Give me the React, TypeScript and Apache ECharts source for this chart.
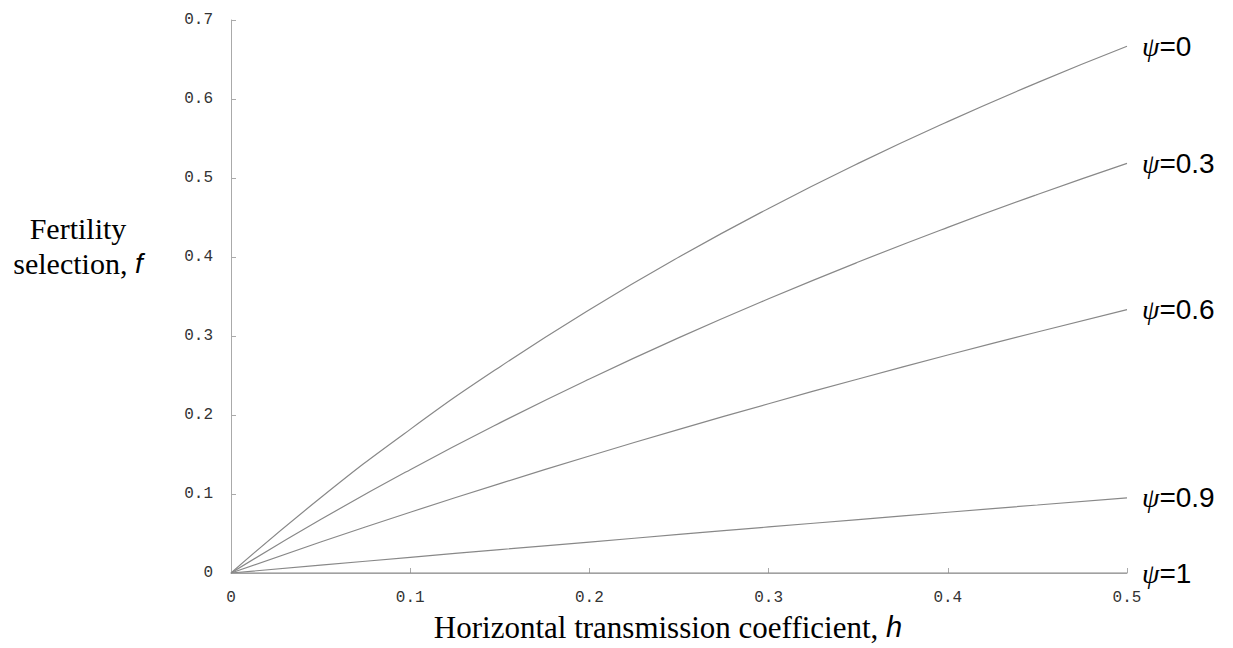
import React, { useEffect, useRef } from "react";
import * as echarts from "echarts";

const hValues = [0, 0.05, 0.1, 0.15, 0.2, 0.25, 0.3, 0.35, 0.4, 0.45, 0.5];
const psiLabels = ["0", "0.3", "0.6", "0.9", "1"];
const fPsi0 = [0, 0.0952, 0.1818, 0.2609, 0.3333, 0.4, 0.4615, 0.5185, 0.5714, 0.6207, 0.6667];
const fPsi03 = [0, 0.0676, 0.1308, 0.19, 0.2456, 0.2979, 0.3471, 0.3936, 0.4375, 0.4791, 0.5185];
const fPsi06 = [0, 0.0392, 0.0769, 0.1132, 0.1481, 0.1818, 0.2143, 0.2456, 0.2759, 0.3051, 0.3333];
const fPsi09 = [0, 0.0099, 0.0198, 0.0296, 0.0392, 0.0488, 0.0583, 0.0676, 0.0769, 0.0861, 0.0952];
const fPsi1 = [0, 0, 0, 0, 0, 0, 0, 0, 0, 0, 0];
const allSeries = [fPsi0, fPsi03, fPsi06, fPsi09, fPsi1];

export default function App() {
  const ref = useRef<HTMLDivElement>(null);
  useEffect(() => {
    if (!ref.current) return;
    const chart = echarts.init(ref.current, null, { renderer: "svg" });
    const tickFont = {
      fontFamily: "Liberation Mono, DejaVu Sans Mono, monospace",
      fontSize: 16,
      color: "#333",
    };
    const titleRich = {
      a: { fontFamily: "Liberation Serif", fontSize: 30, fill: "#000" },
      b: { fontFamily: "Liberation Sans", fontSize: 28, fontStyle: "italic", fill: "#000" },
    };
    const xTitleRich = {
      a: { fontFamily: "Liberation Serif", fontSize: 31, fill: "#000" },
      b: { fontFamily: "Liberation Sans", fontSize: 29, fontStyle: "italic", fill: "#000" },
    };
    chart.setOption({
      animation: false,
      backgroundColor: "#fff",
      grid: { left: 231, right: 106, top: 20, bottom: 75 },
      xAxis: {
        type: "value",
        min: 0,
        max: 0.5,
        interval: 0.1,
        axisLine: { show: true, lineStyle: { color: "#aaa", width: 1 } },
        axisTick: { show: true, inside: true, length: 5, lineStyle: { color: "#aaa" } },
        splitLine: { show: false },
        axisLabel: { ...tickFont, margin: 17 },
      },
      yAxis: {
        type: "value",
        min: 0,
        max: 0.7,
        interval: 0.1,
        axisLine: { show: true, lineStyle: { color: "#aaa", width: 1 } },
        axisTick: { show: true, inside: true, length: 5, lineStyle: { color: "#aaa" } },
        splitLine: { show: false },
        axisLabel: { ...tickFont, margin: 18 },
      },
      graphic: [
        {
          type: "text",
          x: 78,
          y: 228,
          style: {
            text: "Fertility",
            font: '30px "Liberation Serif", "Times New Roman", serif',
            fill: "#000",
            align: "center",
            verticalAlign: "middle",
          },
        },
        {
          type: "text",
          x: 78,
          y: 263,
          style: {
            text: "{a|selection, }{b|f}",
            rich: titleRich,
            align: "center",
            verticalAlign: "middle",
          },
        },
        {
          type: "text",
          x: 668,
          y: 627,
          style: {
            text: "{a|Horizontal transmission coefficient, }{b|h}",
            rich: xTitleRich,
            align: "center",
            verticalAlign: "middle",
          },
        },
      ],
      series: allSeries.map((vals, i) => ({
        type: "line",
        data: vals.map((f, j) => [hValues[j], f]),
        smooth: true,
        showSymbol: false,
        symbol: "none",
        lineStyle: { color: "#888", width: 1.2 },
        endLabel: {
          show: true,
          distance: 15,
          formatter: () => "{p|ψ}{t|=" + psiLabels[i] + "}",
          rich: {
            p: { fontFamily: "Liberation Serif", fontSize: 28, fontStyle: "italic", color: "#000" },
            t: { fontFamily: "Liberation Sans", fontSize: 28, color: "#000" },
          },
        },
        z: 2,
      })),
    });
    return () => chart.dispose();
  }, []);
  return (
    <div
      ref={ref}
      style={{ position: "fixed", left: 0, top: 0, width: 1233, height: 648, background: "#fff" }}
    />
  );
}
